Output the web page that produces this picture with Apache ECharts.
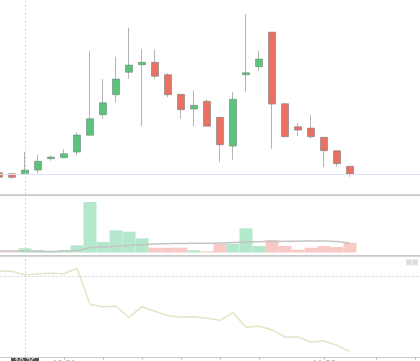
<!DOCTYPE html>
<html><head><meta charset="utf-8">
<script src="https://cdn.jsdelivr.net/npm/echarts@6/dist/echarts.min.js"></script>
<style>html,body{margin:0;padding:0;background:#fff}#c{width:420px;height:361px}</style>
</head><body><div id="c"></div>
<script>
const dates = ['10-24','10-25','10-26','10-27','10-30','10-31','11-01','11-02','11-03','11-06','11-07','11-08','11-09','11-10','11-13','11-14','11-15','11-16','11-17','11-20','11-21','11-22','11-23','11-24','11-27','11-28','11-29','11-30','12-01','12-04','12-05','12-06','12-07','12-08'];
// open, close, low, high
const ohlc = [
  [10.09, 9.86, 9.83, 10.12],
  [10.04, 9.86, 9.78, 10.07],
  [10.04, 10.22, 10.04, 11.14],
  [10.22, 10.66, 10.06, 10.98],
  [10.79, 10.87, 10.69, 10.96],
  [10.84, 11.04, 10.84, 11.26],
  [11.12, 11.97, 10.97, 12.11],
  [11.96, 12.79, 11.96, 16.17],
  [12.99, 13.59, 12.79, 14.77],
  [13.99, 14.77, 13.61, 15.89],
  [15.11, 15.47, 14.79, 17.34],
  [15.49, 15.61, 12.42, 16.27],
  [15.61, 14.91, 14.79, 16.24],
  [14.99, 13.99, 13.86, 15.07],
  [14.01, 13.24, 12.79, 14.01],
  [13.27, 13.46, 12.42, 14.21],
  [13.66, 12.41, 12.41, 13.76],
  [12.86, 11.49, 10.62, 12.86],
  [11.42, 13.76, 10.74, 14.12],
  [14.99, 15.09, 14.14, 18.02],
  [15.39, 15.77, 15.19, 16.17],
  [17.12, 13.52, 11.29, 17.12],
  [13.54, 11.89, 11.86, 13.57],
  [12.39, 12.22, 11.92, 12.56],
  [12.32, 11.89, 11.79, 12.97],
  [11.86, 11.19, 10.37, 11.86],
  [11.19, 10.54, 10.39, 11.19],
  [10.41, 10.01, 9.89, 10.41]
];
const volumes = [3, 3, 8.4, 5, 3, 5, 14.4, 101, 21, 44.4, 41.6, 28.4, 9.6, 9.6, 9.6, 4.4, 2.4, 17.6, 17.6, 48.4, 13, 25, 13, 5.6, 9.6, 13, 11, 19.6];
const volumeMA = [3, 3, 3, 2, 2, 2.4, 3.6, 9.6, 11, 12.4, 14, 15.6, 17, 17.6, 18, 18.4, 18.4, 19, 20, 21, 21.6, 22, 22.4, 22.6, 23, 23, 22, 18.4];
const indicator = [86, 85.7, 82, 83.3, 83.7, 83.3, 88.7, 52.7, 50.3, 50.7, 39.7, 50.3, 45.7, 41.3, 40, 40.3, 38.7, 36.7, 44.3, 29.7, 30.7, 27.3, 20, 20, 15, 16, 11.7, 5.3];
const refPrice = 10.0;
const cursorIndex = 2;
const cursorIndicator = 81;
const tickIndices = [5, 8, 11, 14, 17, 20, 25, 29, 32];
const labelIndices = [5, 25];

const UP = '#5bc47b', DOWN = '#ec6f63';
const UPV = '#b3e8cc', DOWNV = '#f8c9c5';

const chart = echarts.init(document.getElementById('c'));
const gridL = -7.5, gridW = 13 * dates.length;
const volData = volumes.map((v, i) => ({
  value: v,
  itemStyle: { color: ohlc[i][1] >= ohlc[i][0] ? UPV : DOWNV }
}));
const ptr = () => ({
  show: true, type: 'line', value: cursorIndex, status: 'show',
  lineStyle: { color: '#d6d6d6', type: [2, 2], width: 1 },
  label: { show: false }
});

chart.setOption({
  animation: false,
  axisPointer: { link: [{ xAxisIndex: 'all' }], triggerOn: 'none' },
  grid: [
    { left: gridL, width: gridW, top: 0, height: 194.5, outerBoundsMode: 'none', containLabel: false },
    { left: gridL, width: gridW, top: 196, height: 56.5, outerBoundsMode: 'none', containLabel: false },
    { left: gridL, width: gridW, top: 257, height: 100, outerBoundsMode: 'none', containLabel: false }
  ],
  xAxis: [0, 1, 2].map(g => ({
    type: 'category', gridIndex: g, data: dates, boundaryGap: true,
    axisLine: { show: g === 2, lineStyle: { color: '#c8c8c8' } },
    axisTick: { show: g === 2, alignWithLabel: true, length: 3, lineStyle: { color: '#c8c8c8' },
      interval: (i) => tickIndices.includes(i) },
    axisLabel: { show: g === 2, margin: 2.5, fontSize: 9, color: '#aaa', fontFamily: 'Noto Sans',
      interval: (i) => labelIndices.includes(i) },
    splitLine: { show: false },
    axisPointer: ptr()
  })),
  yAxis: [
    { gridIndex: 0, min: 9, max: 18.725, show: false, splitLine: { show: false } },
    { gridIndex: 1, min: 0, max: 113, show: false, splitLine: { show: false } },
    { gridIndex: 2, min: 0, max: 100, position: 'right', show: true,
      axisLine: { show: false }, axisTick: { show: false }, axisLabel: { show: false }, splitLine: { show: false },
      axisPointer: { show: true, type: 'line', value: cursorIndicator, status: 'show',
        lineStyle: { color: '#d0d0d0', type: [2, 2], width: 1 }, label: { show: false } } }
  ],
  series: [
    {
      type: 'candlestick', xAxisIndex: 0, yAxisIndex: 0,
      data: ohlc, barWidth: 8,
      itemStyle: { color: UP, color0: DOWN, borderColor: 'rgba(110,125,118,0.55)', borderColor0: 'rgba(110,125,118,0.55)', borderWidth: 1 },
      markLine: {
        silent: true, symbol: 'none', label: { show: false },
        lineStyle: { color: '#dbe3f6', type: 'solid', width: 1 },
        data: [{ yAxis: refPrice }]
      }
    },
    {
      type: 'bar', xAxisIndex: 1, yAxisIndex: 1, data: volData, barWidth: '100%'
    },
    {
      type: 'line', xAxisIndex: 1, yAxisIndex: 1, data: volumeMA, symbol: 'none', smooth: true,
      lineStyle: { color: '#c4c4c4', width: 1.5 }
    },
    {
      type: 'line', xAxisIndex: 2, yAxisIndex: 2, data: indicator, symbol: 'none',
      lineStyle: { color: '#e4e4c6', width: 1.5 }
    }
  ],
  graphic: [
    { type: 'rect', shape: { x: 0, y: 194.2, width: 420, height: 1.8 }, style: { fill: '#c9c9c9' }, silent: true },
    { type: 'rect', shape: { x: 0, y: 255, width: 420, height: 1.8 }, style: { fill: '#c9c9c9' }, silent: true },
    { type: 'rect', shape: { x: 406.5, y: 259.5, width: 5, height: 5.5 }, style: { fill: '#dcdcdc', stroke: '#e8e8e8' }, silent: true },
    { type: 'rect', shape: { x: 412.5, y: 259.5, width: 5, height: 5.5 }, style: { fill: '#dcdcdc', stroke: '#e8e8e8' }, silent: true }
  ]
});

// cursor date tag on the time axis (mostly below the visible area)
const px = chart.convertToPixel({ xAxisIndex: 2 }, dates[cursorIndex]);
const pyAxis = chart.convertToPixel({ yAxisIndex: 2 }, 0);
chart.setOption({
  graphic: [
    { type: 'rect', shape: { x: 0, y: 194.2, width: 420, height: 1.8 }, style: { fill: '#c9c9c9' }, silent: true },
    { type: 'rect', shape: { x: 0, y: 255, width: 420, height: 1.8 }, style: { fill: '#c9c9c9' }, silent: true },
    { type: 'rect', shape: { x: 406.5, y: 259.5, width: 5, height: 5.5 }, style: { fill: '#dcdcdc', stroke: '#e8e8e8' }, silent: true },
    { type: 'rect', shape: { x: 412.5, y: 259.5, width: 5, height: 5.5 }, style: { fill: '#dcdcdc', stroke: '#e8e8e8' }, silent: true },
    { type: 'group', x: px, y: pyAxis, silent: true, children: [
      { type: 'rect', shape: { x: -14, y: 0, width: 28, height: 12 }, style: { fill: '#555' } },
      { type: 'text', x: 0, y: 6, style: { text: dates[cursorIndex], fill: '#fff', fontSize: 8, fontFamily: 'Noto Sans', align: 'center', verticalAlign: 'middle' } }
    ] }
  ]
}, { replaceMerge: ['graphic'] });
</script></body></html>
